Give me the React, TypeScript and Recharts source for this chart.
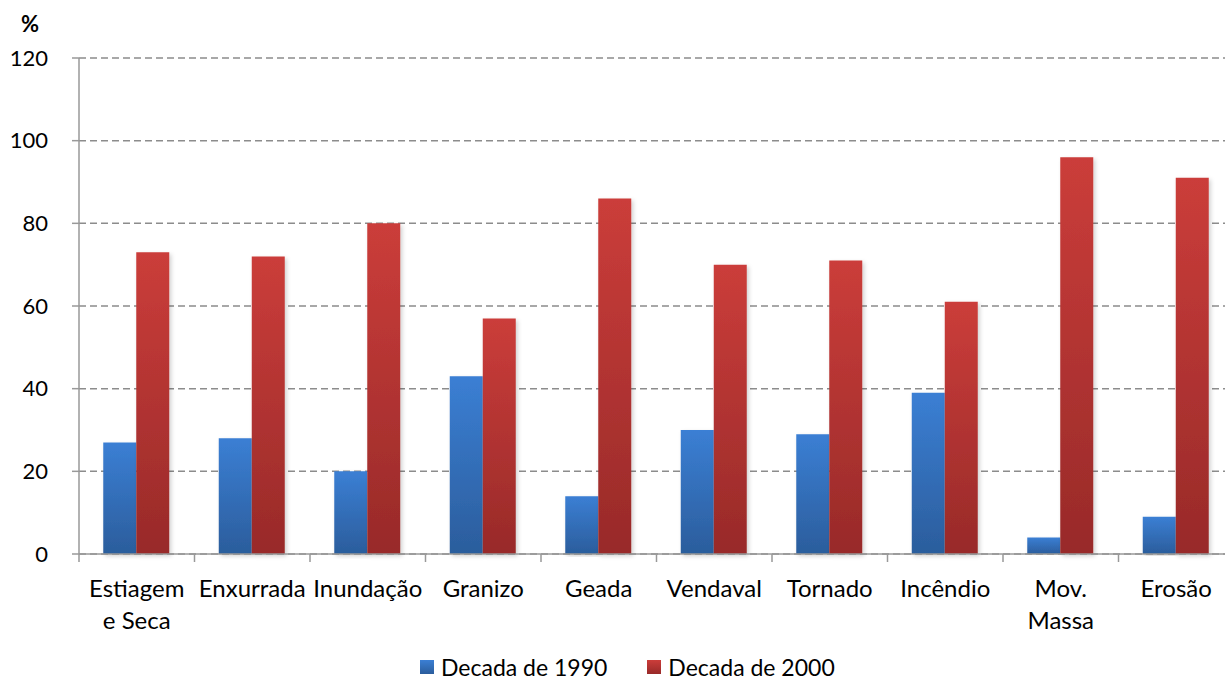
import React from 'react'
import { BarChart, Bar, XAxis, YAxis, CartesianGrid } from 'recharts'

const categories = ['Estiagem e Seca', 'Enxurrada', 'Inundação', 'Granizo', 'Geada', 'Vendaval', 'Tornado', 'Incêndio', 'Mov. Massa', 'Erosão']
const decada1990 = [27, 28, 20, 43, 14, 30, 29, 39, 4, 9]
const decada2000 = [73, 72, 80, 57, 86, 70, 71, 61, 96, 91]
const yTicks = [0, 20, 40, 60, 80, 100, 120]
const seriesNames = ['Decada de 1990', 'Decada de 2000']

// two-line labels as in the original
const wrapped: Record<string, string[]> = {
    'Estiagem e Seca': ['Estiagem', 'e Seca'],
    'Mov. Massa': ['Mov.', 'Massa'],
}

const data = categories.map((c, i) => ({ name: c, d1990: decada1990[i], d2000: decada2000[i] }))

const FONT = 'Lato, "Open Sans", sans-serif'
const W = 1240
const H = 680
const LEFT = 79
const RIGHT = 6
const band = (W - LEFT - RIGHT) / categories.length

function CategoryTick(props: any) {
    const { x, y, payload } = props
    const lines = wrapped[payload.value] || [payload.value]
    return (
        <g>
            <line x1={x - band / 2} y1={y - 8} x2={x - band / 2} y2={y} stroke="#999" strokeWidth={1.5} />
            <text x={x} y={y + 35} textAnchor="middle" fontSize={24} fontFamily={FONT} fill="#000">
                {lines.map((l, i) => (
                    <tspan key={i} x={x} dy={i === 0 ? 0 : 32}>{l}</tspan>
                ))}
            </text>
        </g>
    )
}

export default function App() {
    return (
        <div style={{ position: 'absolute', left: 0, top: 0, width: 1225, height: 680, overflow: 'hidden', background: '#fff' }}>
            <div style={{ position: 'absolute', left: 21, top: 13, lineHeight: 1, fontFamily: FONT, fontWeight: 'bold', fontSize: 22 }}>%</div>
            <BarChart
                width={W}
                height={H}
                data={data}
                margin={{ top: 58, right: RIGHT, left: 0, bottom: 46 }}
                barCategoryGap="21%"
                barGap={0}
            >
                <defs>
                    <linearGradient id="grad1990" x1="0" y1="0" x2="0" y2="1">
                        <stop offset="0%" stopColor="#3B7FD4" />
                        <stop offset="100%" stopColor="#2B5D9C" />
                    </linearGradient>
                    <linearGradient id="grad2000" x1="0" y1="0" x2="0" y2="1">
                        <stop offset="0%" stopColor="#CB3D3A" />
                        <stop offset="100%" stopColor="#982A29" />
                    </linearGradient>
                    <filter id="barShadow" x="-20%" y="-5%" width="140%" height="110%">
                        <feDropShadow dx="2" dy="2" stdDeviation="2" floodColor="#000" floodOpacity={0.18} />
                    </filter>
                </defs>
                <CartesianGrid vertical={false} stroke="#8c8c8c" strokeDasharray="7 4" strokeWidth={1.5} />
                <XAxis
                    dataKey="name"
                    height={80}
                    interval={0}
                    tickLine={false}
                    axisLine={{ stroke: '#999', strokeWidth: 1.5 }}
                    tick={<CategoryTick />}
                />
                <YAxis
                    width={LEFT}
                    domain={[0, 120]}
                    ticks={yTicks}
                    interval={0}
                    tickSize={7}
                    tickMargin={24}
                    tickLine={{ stroke: '#999', strokeWidth: 1.5 }}
                    axisLine={{ stroke: '#999', strokeWidth: 1.5 }}
                    tick={{ fontSize: 22, fontFamily: FONT, fill: '#000' }}
                />
                <Bar dataKey="d1990" name={seriesNames[0]} fill="url(#grad1990)" filter="url(#barShadow)" isAnimationActive={false} />
                <Bar dataKey="d2000" name={seriesNames[1]} fill="url(#grad2000)" filter="url(#barShadow)" isAnimationActive={false} />
            </BarChart>
            <div style={{ position: 'absolute', left: 420, top: 655, height: 24, display: 'flex', alignItems: 'center', lineHeight: 1, fontFamily: FONT, fontSize: 23 }}>
                <span style={{ width: 14, height: 14, background: 'linear-gradient(#3B7FD4, #2B5D9C)', marginRight: 7 }} />
                <span style={{ marginRight: 40 }}>{seriesNames[0]}</span>
                <span style={{ width: 14, height: 14, background: 'linear-gradient(#CB3D3A, #982A29)', marginRight: 7 }} />
                <span>{seriesNames[1]}</span>
            </div>
        </div>
    )
}
